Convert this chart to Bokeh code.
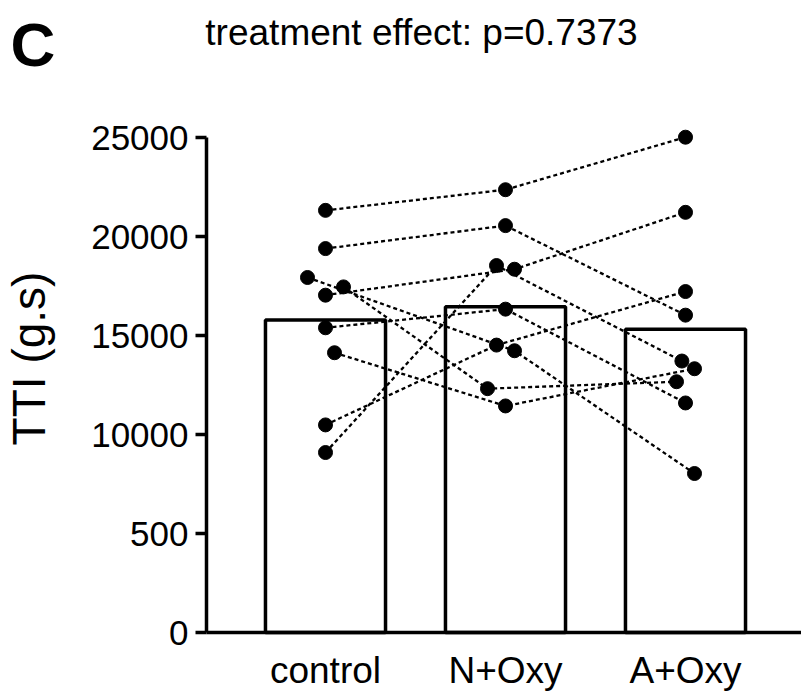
import math
from bokeh.plotting import figure
from bokeh.models import Range1d, FixedTicker, Label, ColumnDataSource
from bokeh.embed import file_html
from bokeh.resources import INLINE

# ---------------- data ----------------
groups = ["control", "N+Oxy", "A+Oxy"]
bar_means = [15780, 16450, 15310]

# paired subjects (same index = same subject)
control = [21320, 19390, 17930, 17455, 17036, 15390, 14130, 10484, 9090]
n_oxy = [22363, 20550, 14230, 12315, 18347, 16331, 11442, 14516, 18533]
a_oxy = [25015, 16028, 8030, 12666, 21220, 11593, 13322, 17220, 13710]

# horizontal jitter of the dots (category units)
control_dx = [0, 0, -0.1, 0.1, 0, 0, 0.05, 0, 0]
n_oxy_dx = [0, 0, 0.05, -0.1, 0.05, 0, 0, -0.05, -0.05]
a_oxy_dx = [0, 0, 0.05, -0.05, 0, 0, 0.05, 0, -0.02]

y_ticks = [0, 5000, 10000, 15000, 20000, 25000]
y_tick_labels = ["0", "500", "10000", "15000", "20000", "25000"]

title_text = "treatment effect: p=0.7373"
panel_letter = "C"
y_title = "TTI (g.s)"

FONT = "Liberation Sans"

# ---------------- figure ----------------
W, H = 801, 691
PX_PER_CAT = 180.0          # pixels per category step
PX_PER_UNIT = 0.0198        # pixels per y unit
X_ORIGIN_PX = 325.0         # pixel of first category
Y_ORIGIN_PX = 632.0         # pixel of y = 0

def px_x(px):
    return (px - X_ORIGIN_PX) / PX_PER_CAT

def px_y(py):
    return (Y_ORIGIN_PX - py) / PX_PER_UNIT

X0, X1 = px_x(0), px_x(W)
Y0, Y1 = px_y(H), px_y(0)
YAXIS_X = px_x(206)

p = figure(width=W, height=H, x_range=Range1d(X0, X1), y_range=Range1d(Y0, Y1),
           output_backend="svg", toolbar_location=None,
           min_border_left=0, min_border_right=0, min_border_top=0, min_border_bottom=0)
p.outline_line_color = None
p.xgrid.visible = False
p.ygrid.visible = False
p.background_fill_color = "white"
p.border_fill_color = "white"

# bars
xs_bar = list(range(len(groups)))
p.vbar(x=xs_bar, top=bar_means, width=0.667, fill_color="white",
       line_color="black", line_width=3.5)

# paired lines
line_xs = []
line_ys = []
for i in range(len(control)):
    line_xs.append([0 + control_dx[i], 1 + n_oxy_dx[i], 2 + a_oxy_dx[i]])
    line_ys.append([control[i], n_oxy[i], a_oxy[i]])
p.multi_line(xs=line_xs, ys=line_ys, line_color="black", line_width=2.3, line_dash="4 3")

# dots
for gi, (vals, dx) in enumerate([(control, control_dx), (n_oxy, n_oxy_dx), (a_oxy, a_oxy_dx)]):
    src = ColumnDataSource(dict(x=[gi + d for d in dx], y=vals))
    p.scatter("x", "y", source=src, size=14, fill_color="black", line_color="black")

# axes (drawn at fixed data locations inside the canvas)
yax = p.yaxis[0]
yax.fixed_location = YAXIS_X
yax.bounds = (0, y_ticks[-1])
yax.ticker = FixedTicker(ticks=y_ticks)
yax.major_label_overrides = {t: l for t, l in zip(y_ticks, y_tick_labels)}
yax.minor_tick_line_color = None
yax.major_tick_out = 11
yax.major_tick_in = 0
yax.major_tick_line_width = 3.5
yax.axis_line_width = 3.5
yax.major_label_standoff = 7
yax.major_label_text_font = FONT
yax.major_label_text_font_size = "35px"
yax.major_label_text_color = "black"

xax = p.xaxis[0]
xax.fixed_location = 0
xax.bounds = (YAXIS_X, X1)
xax.ticker = FixedTicker(ticks=xs_bar)
xax.major_label_overrides = {i: g for i, g in enumerate(groups)}
xax.minor_tick_line_color = None
xax.major_tick_out = 0
xax.major_tick_in = 0
xax.axis_line_width = 3.5
xax.major_label_standoff = 17
xax.major_label_text_font = FONT
xax.major_label_text_font_size = "37px"
xax.major_label_text_color = "black"

# texts
p.add_layout(Label(x=px_x(421), y=px_y(32), text=title_text, text_font=FONT,
                   text_font_size="37px", text_align="center", text_baseline="alphabetic",
                   text_color="black"))
p.add_layout(Label(x=px_x(10), y=px_y(44), text=panel_letter, text_font=FONT,
                   text_font_size="62px", text_font_style="bold", text_align="left",
                   text_baseline="alphabetic", text_color="black"))
p.add_layout(Label(x=px_x(28), y=px_y(358), text=y_title, text_font=FONT,
                   text_font_size="46px", text_align="center", text_baseline="alphabetic",
                   angle=math.pi / 2, text_color="black"))

open("out.html", "w").write(file_html(p, INLINE))
